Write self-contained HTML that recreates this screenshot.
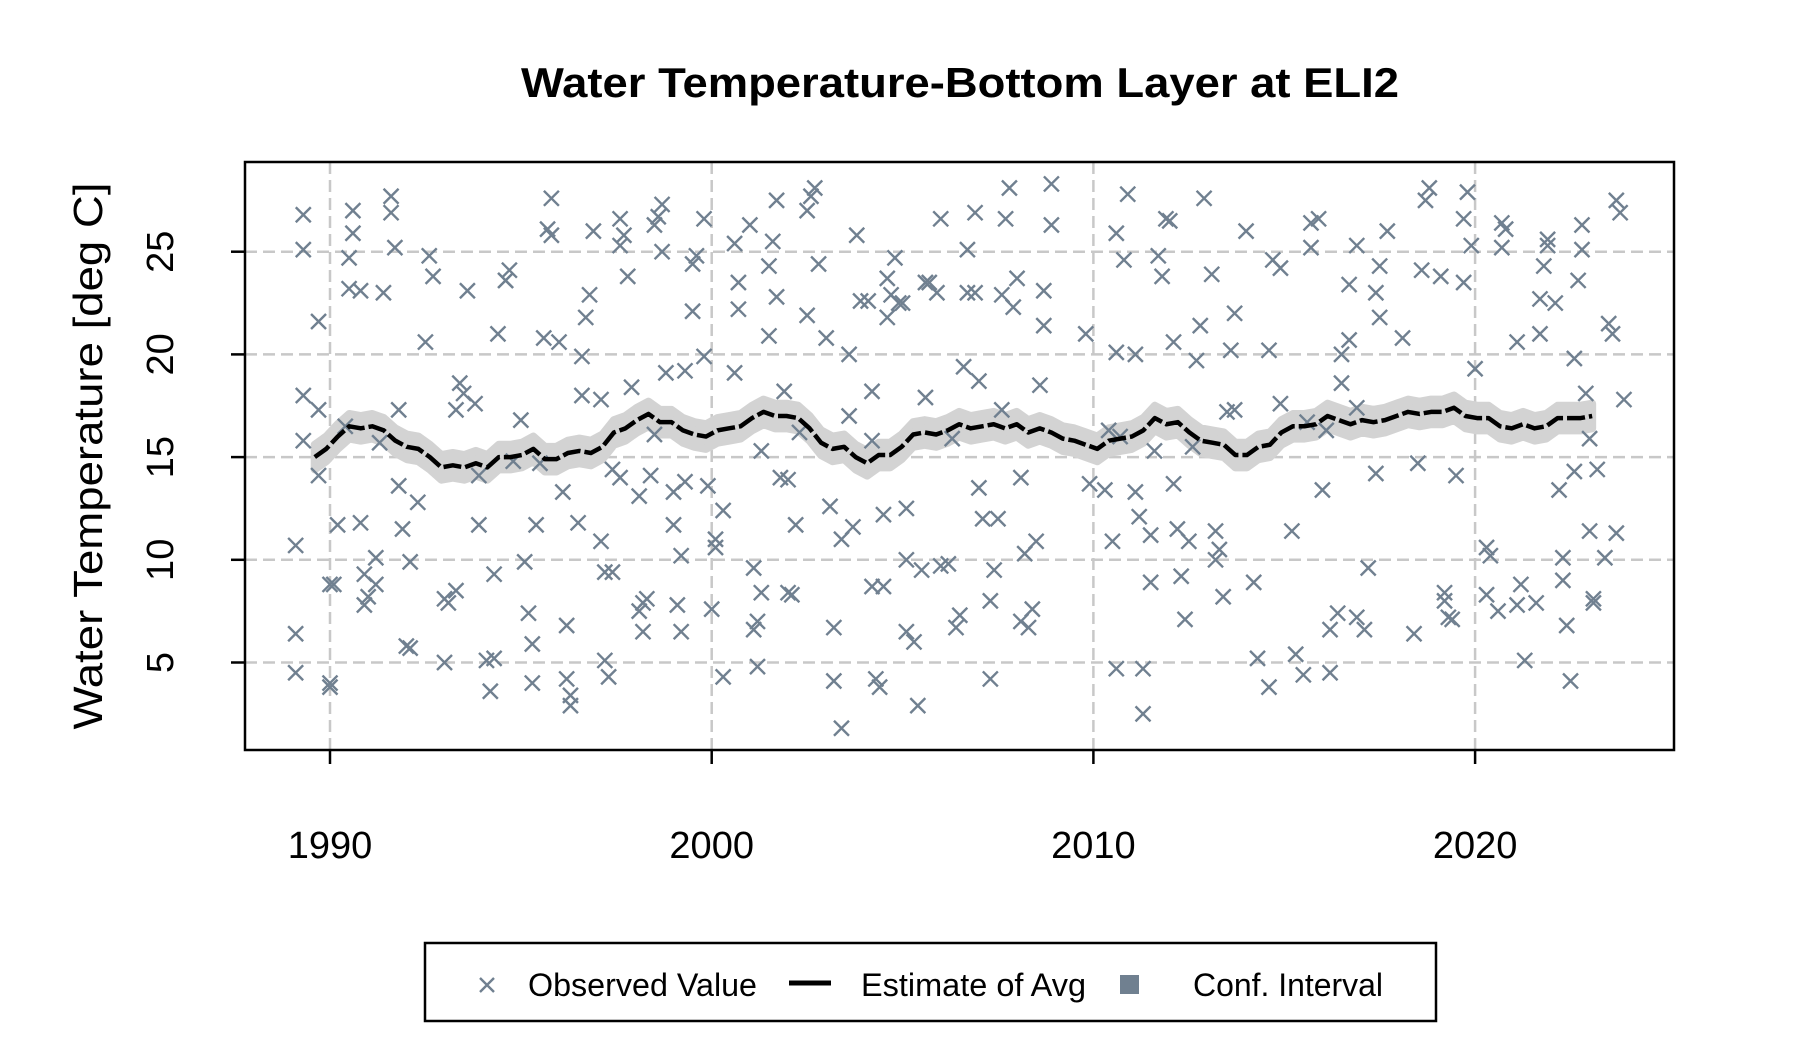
<!DOCTYPE html>
<html><head><meta charset="utf-8"><style>
html,body{margin:0;padding:0;background:#fff;}
svg{display:block;font-family:"Liberation Sans",Arial,sans-serif;}
</style></head><body>
<svg id="chart" width="1800" height="1050" viewBox="0 0 1800 1050" xmlns="http://www.w3.org/2000/svg">
<text x="960" y="97" text-anchor="middle" font-size="42" font-weight="bold" textLength="878" lengthAdjust="spacingAndGlyphs">Water Temperature-Bottom Layer at ELI2</text>
<g id="grid"></g>
<g id="band"></g>
<g id="points"></g>
<g id="line"></g>
<rect x="245" y="162" width="1429" height="588" fill="none" stroke="#000" stroke-width="2.5"/>
<g id="axes"></g>
<text transform="translate(102,456) rotate(-90)" text-anchor="middle" font-size="41" textLength="547" lengthAdjust="spacingAndGlyphs">Water Temperature [deg C]</text>
<g>
<rect x="425" y="943" width="1011" height="78" fill="#fff" stroke="#000" stroke-width="2.5"/>
<g>
<path d="M480 978 L494 992 M494 978 L480 992" stroke="#708090" stroke-width="2.4"/>
<text x="528" y="996" font-size="32" textLength="229" lengthAdjust="spacingAndGlyphs">Observed Value</text></g>
<g>
<line x1="789" y1="983" x2="831" y2="983" stroke="#000" stroke-width="5"/>
<text x="861" y="996" font-size="32" textLength="225" lengthAdjust="spacingAndGlyphs">Estimate of Avg</text></g>
<g>
<rect x="1120" y="975" width="19" height="19" fill="#708090"/>
<text x="1193" y="996" font-size="32" textLength="190" lengthAdjust="spacingAndGlyphs">Conf. Interval</text></g>
</g>
</svg>
<script>
const xTicks=[1990,2000,2010,2020];
const yTicks=[5,10,15,20,25];
const obsYears=[1989.1,1989.1,1989.1,1989.3,1989.3,1989.3,1989.3,1989.7,1989.7,1989.7,1990,1990,1990,1990.1,1990.2,1990.5,1990.5,1990.6,1990.6,1990.4,1990.8,1990.8,1990.9,1990.9,1991,1991.2,1991.2,1991.3,1991.4,1991.6,1991.6,1991.7,1991.8,1991.8,1991.9,1992,1992.1,1992.1,1992.3,1992.5,1992.6,1992.7,1993,1993.1,1993,1993.3,1993.3,1993.4,1993.5,1993.6,1993.8,1993.9,1993.9,1994.1,1994.2,1994.3,1994.3,1994.4,1994.6,1994.7,1994.6,1994.8,1995,1995.1,1995.2,1995.3,1995.3,1995.4,1995.5,1995.6,1995.7,1995.8,1995.8,1996,1996.1,1996.2,1996.2,1996.3,1996.3,1996.5,1996.6,1996.6,1996.7,1996.8,1996.9,1997.1,1997.1,1997.2,1997.2,1997.3,1997.4,1997.4,1997.6,1997.6,1997.7,1997.6,1997.8,1997.9,1998.1,1998.1,1998.2,1998.2,1998.3,1998.4,1998.5,1998.5,1998.6,1998.7,1998.7,1998.8,1999,1999,1999.1,1999.2,1999.2,1999.3,1999.3,1999.5,1999.6,1999.5,1999.8,1999.8,1999.9,2000.1,2000.1,2000,2000.3,2000.3,2000.6,2000.7,2000.7,2000.6,2001,2001.1,2001.2,2001.1,2001.2,2001.3,2001.3,2001.5,2001.5,2001.6,2001.7,2001.7,2001.9,2001.8,2002,2002,2002.1,2002.2,2002.3,2002.5,2002.5,2002.6,2002.7,2002.8,2003,2003.1,2003.2,2003.2,2003.4,2003.4,2003.7,2003.6,2003.6,2003.8,2003.9,2004.1,2004.2,2004.2,2004.2,2004.3,2004.4,2004.5,2004.5,2004.6,2004.7,2004.6,2004.8,2004.9,2005,2005.1,2005.1,2005.1,2005.3,2005.4,2005.5,2005.6,2005.7,2005.6,2005.9,2006,2006,2006.2,2006.3,2006.4,2006.5,2006.6,2006.7,2006.7,2006.9,2006.9,2007,2007,2007.1,2007.3,2007.3,2007.4,2007.5,2007.6,2007.6,2007.7,2007.8,2008,2007.9,2008.1,2008.2,2008.3,2008.1,2008.4,2008.5,2008.6,2008.7,2008.7,2008.9,2008.9,2009.8,2009.9,2010.4,2010.3,2010.5,2010.6,2010.7,2010.6,2010.6,2010.8,2010.9,2011.1,2011.1,2011.2,2011.3,2011.3,2011.5,2011.5,2011.6,2011.7,2011.8,2011.9,2012,2012.1,2012.1,2012.2,2012.3,2012.4,2012.5,2012.6,2012.7,2012.8,2012.9,2013.1,2013.2,2013.2,2013.3,2013.4,2013.5,2013.6,2013.7,2013.7,2014,2014.2,2014.3,2014.6,2014.6,2014.7,2014.9,2014.9,2015.2,2015.3,2015.5,2015.6,2015.7,2015.7,2015.9,2016,2016.1,2016.2,2016.2,2016.4,2016.5,2016.5,2016.7,2016.7,2016.9,2016.9,2016.9,2017.1,2017.2,2017.4,2017.5,2017.4,2017.5,2017.7,2018.1,2018.4,2018.5,2018.6,2018.7,2018.8,2019.1,2019.2,2019.2,2019.3,2019.4,2019.5,2019.7,2019.8,2019.7,2019.9,2020,2020.3,2020.4,2020.3,2020.6,2020.7,2020.7,2020.8,2021.1,2021.2,2021.1,2021.3,2021.6,2021.7,2021.7,2021.8,2021.9,2021.9,2022.1,2022.2,2022.3,2022.3,2022.4,2022.5,2022.6,2022.6,2022.7,2022.8,2022.8,2022.9,2023,2023,2023.1,2023.1,2023.2,2023.4,2023.5,2023.6,2023.7,2023.8,2023.9,2023.7];
const obsValues=[6.4,4.5,10.7,15.8,18,26.8,25.1,21.6,17.3,14.1,4,3.8,8.8,8.8,11.7,23.2,24.7,25.9,27,16.5,23.1,11.8,9.3,7.8,8.2,10.1,8.8,15.7,23,27.7,26.9,25.2,17.3,13.6,11.5,5.8,5.7,9.9,12.8,20.6,24.8,23.8,8.1,7.9,5,8.5,17.3,18.6,18.1,23.1,17.6,14.1,11.7,5.1,3.6,5.2,9.3,21,23.6,24.1,23.6,14.8,16.8,9.9,7.4,5.9,4,11.7,14.7,20.8,26.1,27.6,25.8,20.6,13.3,6.8,4.2,3.4,2.9,11.8,18,19.9,21.8,22.9,26,17.8,10.9,9.4,5.1,4.3,9.4,14.4,14,25.3,25.8,26.6,23.8,18.4,13.1,7.5,7.9,6.5,8.1,14.1,16.1,26.3,26.7,27.3,25,19.1,13.3,11.7,7.8,6.5,10.2,13.8,19.2,22.1,24.8,24.4,26.6,19.9,13.6,11,10.6,7.6,4.3,12.4,19.1,22.2,23.5,25.4,26.3,9.6,7,6.6,4.8,8.4,15.3,20.9,24.3,25.5,27.5,22.8,18.2,14,13.9,8.4,8.3,11.7,16.2,21.9,27,27.7,28.1,24.4,20.8,12.6,6.7,4.1,1.8,11,11.6,17,20,25.8,22.6,22.6,15.8,18.2,8.7,4.2,3.8,8.7,12.2,21.8,22.9,23.7,24.7,22.5,22.5,12.5,10,6.5,6,2.9,9.5,17.9,23.5,23.5,23,26.6,9.7,9.8,15.9,6.7,7.3,19.4,25.1,23,23,26.9,18.7,13.5,12,8,4.2,9.5,12,17.3,22.9,26.6,28.1,23.7,22.3,14,10.3,6.7,7,7.6,10.9,18.5,21.4,23.1,26.3,28.3,21,13.7,16.3,13.4,10.9,4.7,16,20.1,25.9,24.6,27.8,20,13.3,12.1,4.7,2.5,8.9,11.2,15.3,24.8,23.8,26.6,26.5,20.6,13.7,11.5,9.2,7.1,10.9,15.5,19.7,21.4,27.6,23.9,10,11.4,10.5,8.2,17.2,20.2,22,17.3,26,8.9,5.2,3.8,20.2,24.6,24.2,17.6,11.4,5.4,4.4,16.7,25.2,26.4,26.6,13.4,16.3,4.5,6.6,7.4,18.6,20,23.4,20.7,25.3,17.4,7.2,6.6,9.6,14.2,21.8,23,24.3,26,20.8,6.4,14.7,24.1,27.5,28.1,23.8,8,8.4,7.2,7.1,14.1,23.5,27.9,26.6,25.3,19.3,10.6,10.2,8.3,7.5,25.2,26.4,26.1,20.6,8.8,7.8,5.1,7.9,21,22.7,24.3,25.6,25.3,22.5,13.4,10.1,9,6.8,4.1,14.3,19.8,23.6,25.1,26.3,18.1,15.9,11.4,8.1,7.9,14.4,10.1,21.5,21,27.5,26.9,17.8,11.3,27];
const estStart=1989.6, estStep=0.3015;
const estValues=[15,15.4,16.0,16.5,16.4,16.5,16.3,15.8,15.5,15.4,15.0,14.5,14.6,14.5,14.7,14.5,15.0,15.0,15.1,15.4,14.9,14.9,15.2,15.3,15.2,15.5,16.2,16.4,16.8,17.1,16.7,16.7,16.3,16.1,16.0,16.3,16.4,16.5,16.9,17.2,17.0,17.0,16.9,16.4,15.7,15.4,15.5,15.0,14.7,15.1,15.1,15.5,16.1,16.2,16.1,16.3,16.6,16.4,16.5,16.6,16.4,16.6,16.2,16.4,16.2,15.9,15.8,15.6,15.4,15.8,15.9,16.0,16.3,16.9,16.6,16.7,16.2,15.8,15.7,15.6,15.1,15.1,15.5,15.6,16.2,16.5,16.5,16.6,17.0,16.8,16.6,16.8,16.7,16.8,17.0,17.2,17.1,17.2,17.2,17.4,17.0,16.9,16.9,16.5,16.4,16.6,16.4,16.5,16.9,16.9,16.9,17.0];
const ciHalf=[0.6];

const NS='http://www.w3.org/2000/svg';
function X(yr){return 330+(yr-1990)*38.17;}
function Y(v){return 662.5-(v-5)*20.54;}
function mk(tag,attrs,parent){const e=document.createElementNS(NS,tag);for(const k in attrs)e.setAttribute(k,attrs[k]);parent.appendChild(e);return e;}
const grid=document.getElementById('grid'),axes=document.getElementById('axes');
xTicks.forEach(t=>{
  const g=mk('line',{x1:X(t),x2:X(t),y1:162,y2:750,stroke:'#c8c8c8','stroke-width':2.5,'stroke-dasharray':'12,6'},grid);
  
  
  const tk=mk('line',{x1:X(t),x2:X(t),y1:750,y2:764,stroke:'#000','stroke-width':2.5},axes);
  
  
  const lb=mk('text',{x:X(t),y:858,'text-anchor':'middle','font-size':38},axes);
  lb.textContent=t;
  
  
});
yTicks.forEach(t=>{
  const g=mk('line',{x1:245,x2:1674,y1:Y(t),y2:Y(t),stroke:'#c8c8c8','stroke-width':2.5,'stroke-dasharray':'12,6'},grid);
  
  
  const tk=mk('line',{x1:231,x2:245,y1:Y(t),y2:Y(t),stroke:'#000','stroke-width':2.5},axes);
  
  
  const lb=mk('text',{transform:`translate(173,${Y(t)}) rotate(-90)`,'text-anchor':'middle','font-size':38},axes);
  lb.textContent=t;
  
  
});
const pts=document.getElementById('points');
obsYears.forEach((yr,i)=>{
  const x=X(yr),y=Y(obsValues[i]),s=7.5;
  const p=mk('path',{d:`M${x-s} ${y-s}L${x+s} ${y+s}M${x+s} ${y-s}L${x-s} ${y+s}`,stroke:'#708090','stroke-width':2.4},pts);
  
  
});
const up=[],lo=[],ln=[];
estValues.forEach((v,i)=>{const x=X(estStart+i*estStep);up.push(x+','+Y(v+ciHalf[0]));lo.push(x+','+Y(v-ciHalf[0]));ln.push(x+','+Y(v));});
const band=mk('polygon',{points:up.concat(lo.reverse()).join(' '),fill:'#d3d3d3',stroke:'#d3d3d3','stroke-width':8,'stroke-linejoin':'round'},document.getElementById('band'));


const line=mk('polyline',{points:ln.join(' '),fill:'none',stroke:'#000','stroke-width':4.5,'stroke-dasharray':'18,4','stroke-linejoin':'round'},document.getElementById('line'));


</script>
</body></html>
